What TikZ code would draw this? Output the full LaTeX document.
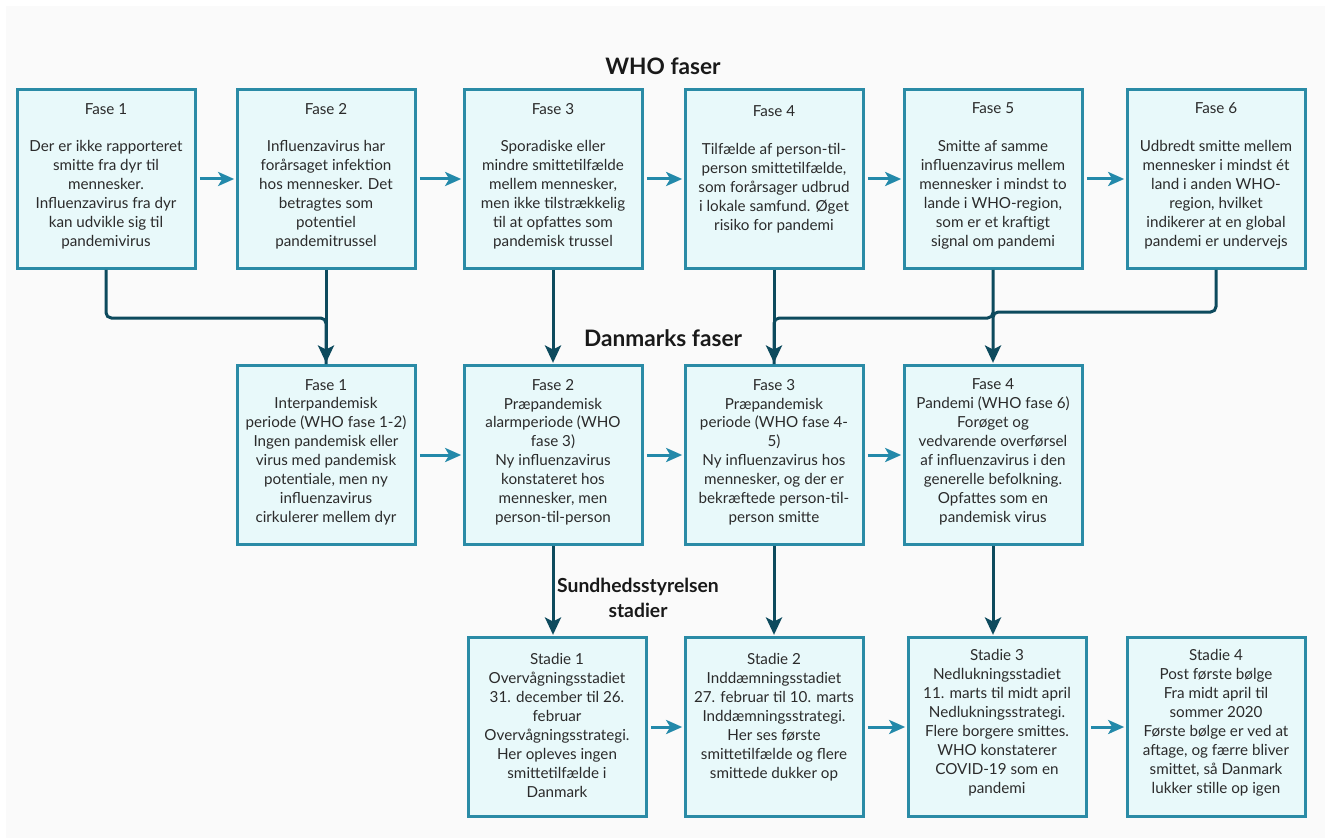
\documentclass[tikz,border=0pt]{standalone}
\usepackage{fontspec}
\setmainfont{Lato}
\usetikzlibrary{positioning,arrows.meta}
\definecolor{boxline}{HTML}{2A8BA6}
\definecolor{boxfill}{HTML}{E8F9FA}
\definecolor{flowcol}{HTML}{2389AA}
\definecolor{linkcol}{HTML}{0D4A5D}
\definecolor{bgcol}{HTML}{FAFAFA}
\definecolor{txtcol}{HTML}{2B2B2B}
\begin{document}
\begin{tikzpicture}[x=0.75pt,y=-0.75pt,
    phasebox/.style={draw=boxline,fill=boxfill,line width=2.25pt,
      minimum width=133.5pt,minimum height=134pt,inner sep=0pt},
    boxtext/.style={anchor=north,align=center,inner sep=0pt,text=txtcol,
      font=\fontsize{11.4}{14.2}\selectfont},
    heading/.style={font=\fontsize{17}{19}\selectfont\bfseries,align=center,text=black!90},
    flow/.style={draw=flowcol,line width=2.25pt,
      -{Stealth[length=12pt,width=10.5pt,inset=3pt]},shorten <=2.5pt,shorten >=1pt},
    link/.style={draw=linkcol,line width=2.25pt,rounded corners=4pt},
    linkarrow/.style={link,-{Stealth[length=13pt,width=12pt,inset=3pt]},shorten >=1pt}]
  % background
  \fill[white] (0,0) rectangle (1329,838);
  \fill[bgcol] (6,6) rectangle (1325,838);
  \useasboundingbox (0,0) rectangle (1329,838);

  % headings
  \node[heading] (who) at (663,66) {WHO faser};
  \node[heading] (dk) at (663,338) {Danmarks faser};
  \node[heading,font=\fontsize{14.5}{19}\selectfont\bfseries] (sst) at (638,598) {Sundhedsstyrelsen\\stadier};

  % WHO faser
  \node[phasebox] (w1) at (106,179) {};
  \node[phasebox] (w2) at (326,179) {};
  \node[phasebox] (w3) at (553,179) {};
  \node[phasebox] (w4) at (774,179) {};
  \node[phasebox] (w5) at (993,179) {};
  \node[phasebox] (w6) at (1216,179) {};
  \node[boxtext,below=11pt of w1.north] (w1t) {Fase 1\\[14.2pt]Der er ikke rapporteret\\smitte fra dyr til\\mennesker.\\Influenzavirus fra dyr\\kan udvikle sig til\\pandemivirus};
  \node[boxtext,below=11pt of w2.north] (w2t) {Fase 2\\[14.2pt]Influenzavirus har\\forårsaget infektion\\hos mennesker. Det\\betragtes som\\potentiel\\pandemitrussel};
  \node[boxtext,below=11pt of w3.north] (w3t) {Fase 3\\[14.2pt]Sporadiske eller\\mindre smittetilfælde\\mellem mennesker,\\men ikke tilstrækkelig\\til at opfattes som\\pandemisk trussel};
  \node[boxtext,below=13pt of w4.north] (w4t) {Fase 4\\[14.2pt]Tilfælde af person-til-\\person smittetilfælde,\\som forårsager udbrud\\i lokale samfund. Øget\\risiko for pandemi};
  \node[boxtext,below=11pt of w5.north] (w5t) {Fase 5\\[14.2pt]Smitte af samme\\influenzavirus mellem\\mennesker i mindst to\\lande i WHO-region,\\som er et kraftigt\\signal om pandemi};
  \node[boxtext,below=11pt of w6.north] (w6t) {Fase 6\\[14.2pt]Udbredt smitte mellem\\mennesker i mindst ét\\land i anden WHO-\\region, hvilket\\indikerer at en global\\pandemi er undervejs};

  % Danmarks faser
  \node[phasebox] (d1) at (326,455) {};
  \node[phasebox] (d2) at (553,455) {};
  \node[phasebox] (d3) at (774,455) {};
  \node[phasebox] (d4) at (993,455) {};
  \node[boxtext,below=11pt of d1.north] (d1t) {Fase 1\\Interpandemisk\\periode (WHO fase 1-2)\\Ingen pandemisk eller\\virus med pandemisk\\potentiale, men ny\\influenzavirus\\cirkulerer mellem dyr};
  \node[boxtext,below=11pt of d2.north] (d2t) {Fase 2\\Præpandemisk\\alarmperiode (WHO\\fase 3)\\Ny influenzavirus\\konstateret hos\\mennesker, men\\person-til-person};
  \node[boxtext,below=11pt of d3.north] (d3t) {Fase 3\\Præpandemisk\\periode (WHO fase 4-\\5)\\Ny influenzavirus hos\\mennesker, og der er\\bekræftede person-til-\\person smitte};
  \node[boxtext,below=11pt of d4.north] (d4t) {Fase 4\\Pandemi (WHO fase 6)\\Forøget og\\vedvarende overførsel\\af influenzavirus i den\\generelle befolkning.\\Opfattes som en\\pandemisk virus};

  % Sundhedsstyrelsen stadier
  \node[phasebox] (b1) at (557,727) {};
  \node[phasebox] (b2) at (774,727) {};
  \node[phasebox] (b3) at (997,727) {};
  \node[phasebox] (b4) at (1216,727) {};
  \node[boxtext,below=13pt of b1.north] (b1t) {Stadie 1\\Overvågningsstadiet\\31. december til 26.\\februar\\Overvågningsstrategi.\\Her opleves ingen\\smittetilfælde i\\Danmark};
  \node[boxtext,below=13pt of b2.north] (b2t) {Stadie 2\\Inddæmningsstadiet\\27. februar til 10. marts\\Inddæmningsstrategi.\\Her ses første\\smittetilfælde og flere\\smittede dukker op};
  \node[boxtext,below=10pt of b3.north] (b3t) {Stadie 3\\Nedlukningsstadiet\\11. marts til midt april\\Nedlukningsstrategi.\\Flere borgere smittes.\\WHO konstaterer\\COVID-19 som en\\pandemi};
  \node[boxtext,below=10pt of b4.north] (b4t) {Stadie 4\\Post første bølge\\Fra midt april til\\sommer 2020\\Første bølge er ved at\\aftage, og færre bliver\\smittet, så Danmark\\lukker stille op igen};

  % joins
  \coordinate (j1) at (326,318);
  \coordinate (j3) at (774,318);
  \coordinate (j4) at (993,312);

  % flow within rows
  \draw[flow] (w1) -- (w2);
  \draw[flow] (w2) -- (w3);
  \draw[flow] (w3) -- (w4);
  \draw[flow] (w4) -- (w5);
  \draw[flow] (w5) -- (w6);
  \draw[flow] (d1) -- (d2);
  \draw[flow] (d2) -- (d3);
  \draw[flow] (d3) -- (d4);
  \draw[flow] (b1) -- (b2);
  \draw[flow] (b2) -- (b3);
  \draw[flow] (b3) -- (b4);

  % WHO -> Danmark
  \draw[link] (w1.south) |- (j1) -- (d1.north);
  \draw[linkarrow] (w2.south) -- (d1.north);
  \draw[linkarrow] (w3.south) -- (d2.north);
  \draw[link] (w5.south) |- (j3) -- (d3.north);
  \draw[linkarrow] (w4.south) -- (d3.north);
  \draw[linkarrow] (w6.south) |- (j4) -- (d4.north);

  % Danmark -> Sundhedsstyrelsen
  \draw[linkarrow] (d2.south) -- (d2.south |- b1.north);
  \draw[linkarrow] (d3.south) -- (d3.south |- b2.north);
  \draw[linkarrow] (d4.south) -- (d4.south |- b3.north);
\end{tikzpicture}
\end{document}
